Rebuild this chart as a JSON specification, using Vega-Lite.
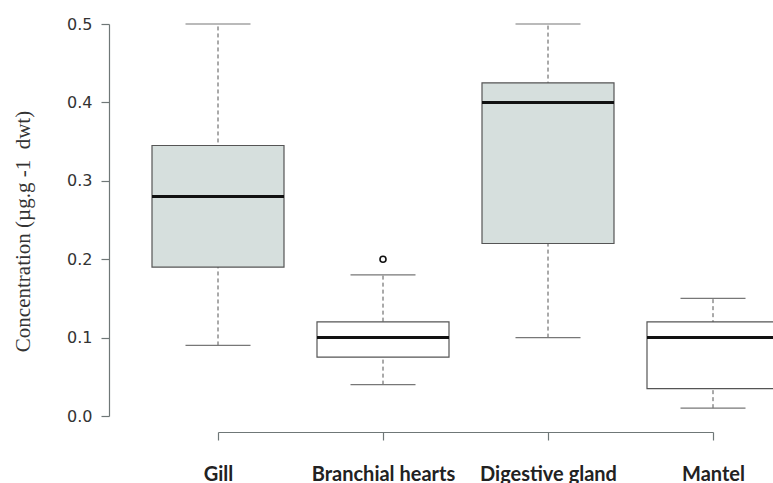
{
  "$schema": "https://vega.github.io/schema/vega-lite/v6.json",
  "autosize": "none",
  "padding": {"left": 218, "top": 24, "right": 60, "bottom": 67},
  "width": 495,
  "height": 392,
  "background": "white",
  "config": {"view": {"stroke": null}},
  "datasets": {
    "stats": [
      {"tissue": "Gill", "min": 0.09, "q1": 0.19, "median": 0.28, "q3": 0.345, "max": 0.5},
      {"tissue": "Branchial hearts", "min": 0.04, "q1": 0.075, "median": 0.1, "q3": 0.12, "max": 0.18},
      {"tissue": "Digestive gland", "min": 0.1, "q1": 0.22, "median": 0.4, "q3": 0.425, "max": 0.5},
      {"tissue": "Mantel", "min": 0.01, "q1": 0.035, "median": 0.1, "q3": 0.12, "max": 0.15}
    ],
    "outliers": [
      {"tissue": "Branchial hearts", "value": 0.2}
    ]
  },
  "data": {"name": "stats"},
  "encoding": {
    "x": {
      "field": "tissue", "type": "nominal",
      "sort": ["Gill", "Branchial hearts", "Digestive gland", "Mantel"],
      "scale": {"type": "point", "padding": 0},
      "axis": {
        "title": null, "labelAngle": 0, "offset": 16,
        "domainColor": "#6f7777", "domainWidth": 1.2,
        "tickColor": "#6f7777", "tickWidth": 1.2, "tickSize": 8,
        "labelFont": "Lato", "labelFontSize": 20, "labelFontWeight": "bold",
        "labelColor": "#222", "labelPadding": 24
      }
    }
  },
  "layer": [
    {
      "mark": {"type": "rule", "strokeDash": [4, 3], "color": "#555", "strokeWidth": 1},
      "encoding": {
        "y": {
          "field": "min", "type": "quantitative",
          "scale": {"domain": [0, 0.5], "nice": false, "zero": false},
          "axis": {
            "title": "Concentration (µg.g -1\u00a0 dwt)",
            "values": [0, 0.1, 0.2, 0.3, 0.4, 0.5], "format": ".1f",
            "offset": 109, "grid": false,
            "domainColor": "#6f7777", "domainWidth": 1.2,
            "tickColor": "#6f7777", "tickWidth": 1.2, "tickSize": 8,
            "labelFont": "DejaVu Sans", "labelFontSize": 16, "labelColor": "#333",
            "labelPadding": 9,
            "titleFont": "Liberation Serif", "titleFontSize": 21, "titleFontWeight": "normal",
            "titleColor": "#333", "titleX": -80, "titleY": 207, "titleBaseline": "alphabetic"
          }
        },
        "y2": {"field": "max"}
      }
    },
    {
      "mark": {"type": "tick", "color": "#777", "thickness": 1.2, "size": 65, "opacity": 1},
      "encoding": {"y": {"field": "min", "type": "quantitative"}}
    },
    {
      "mark": {"type": "tick", "color": "#777", "thickness": 1.2, "size": 65, "opacity": 1},
      "encoding": {"y": {"field": "max", "type": "quantitative"}}
    },
    {
      "mark": {"type": "bar", "size": 132, "stroke": "#555", "strokeWidth": 1.2},
      "encoding": {
        "y": {"field": "q1", "type": "quantitative"},
        "y2": {"field": "q3"},
        "fill": {
          "field": "tissue", "type": "nominal", "legend": null,
          "scale": {
            "domain": ["Gill", "Branchial hearts", "Digestive gland", "Mantel"],
            "range": ["#d6dfdd", "#ffffff", "#d6dfdd", "#ffffff"]
          }
        }
      }
    },
    {
      "mark": {"type": "tick", "color": "#111", "thickness": 3, "size": 132, "opacity": 1},
      "encoding": {"y": {"field": "median", "type": "quantitative"}}
    },
    {
      "data": {"name": "outliers"},
      "mark": {"type": "point", "shape": "circle", "filled": false, "size": 36, "stroke": "#111", "strokeWidth": 1.6, "opacity": 1},
      "encoding": {"y": {"field": "value", "type": "quantitative"}}
    }
  ]
}
